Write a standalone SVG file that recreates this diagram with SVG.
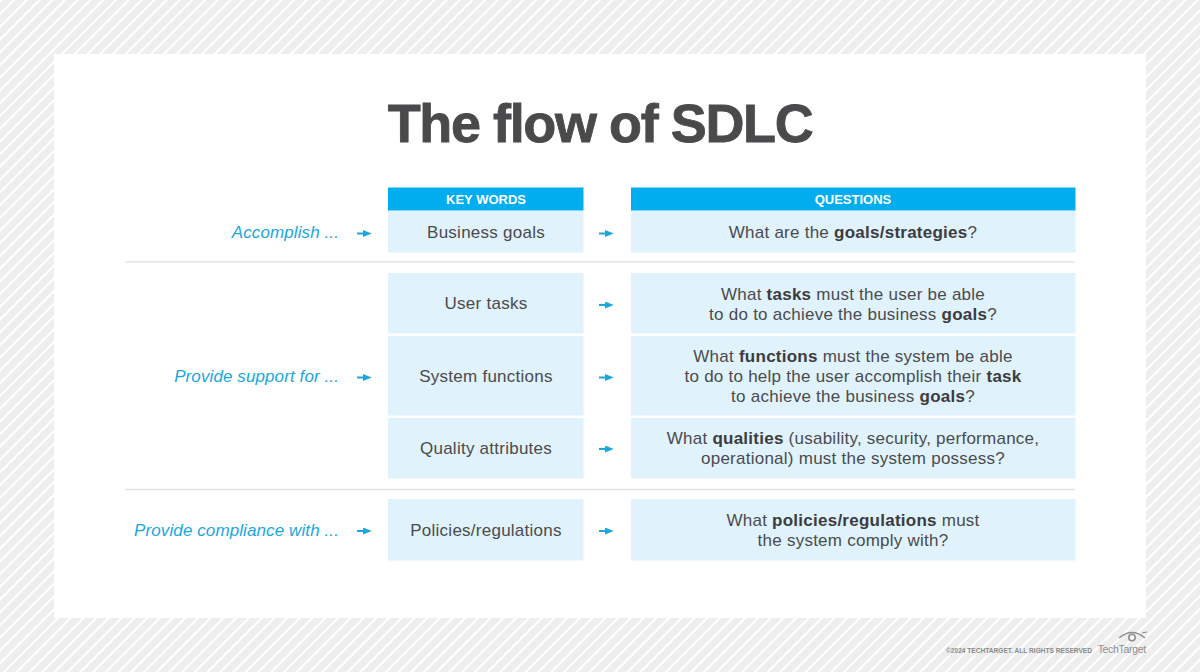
<svg xmlns="http://www.w3.org/2000/svg" width="1200" height="672" viewBox="0 0 1200 672">
<style>
.body{font-family:"Liberation Sans",Arial,sans-serif;font-size:17px;letter-spacing:0.25px;fill:#4b4b4d;text-anchor:middle}
.body tspan.b{font-weight:bold;fill:#3c3c3e}
.lbl{font-family:"Liberation Sans",Arial,sans-serif;font-size:17px;letter-spacing:0.1px;font-style:italic;fill:#1aa7df;text-anchor:end}
.hdr{font-family:"Liberation Sans",Arial,sans-serif;font-size:13px;font-weight:bold;fill:#ffffff;text-anchor:middle}
.box{fill:#e0f2fc}
.head{fill:#00aeef}
.div{stroke:#e2e2e2;stroke-width:1.5}
.arr{stroke:#1aa7df;stroke-width:2}
</style>
<defs>
<pattern id="stripes" width="9" height="9" patternUnits="userSpaceOnUse" patternTransform="rotate(45)">
<rect width="9" height="9" fill="#eeeeee"/>
<rect width="2" height="9" fill="#ffffff"/>
</pattern>
<marker id="ah" viewBox="0 0 10 8" refX="0" refY="4" markerWidth="9" markerHeight="7" markerUnits="userSpaceOnUse" orient="auto">
<path d="M0,0 L10,4 L0,8 Z" fill="#1aa7df"/>
</marker>
</defs>
<rect width="1200" height="672" fill="url(#stripes)"/>
<rect x="54" y="54" width="1092" height="564" fill="#ffffff"/>
<text x="600" y="142" font-family="Liberation Sans,Arial,sans-serif" font-size="54" font-weight="bold" fill="#4a4a4c" text-anchor="middle" letter-spacing="-1.4" stroke="#4a4a4c" stroke-width="0.8">The flow of SDLC</text>

<g id="header-keywords"><rect class="head" x="388" y="187.5" width="195.5" height="23"/><text class="hdr" x="486" y="204">KEY WORDS</text></g>
<g id="header-questions"><rect class="head" x="631" y="187.5" width="444.5" height="23"/><text class="hdr" x="853" y="204">QUESTIONS</text></g>

<g id="dividers">
<line class="div" x1="125" y1="262" x2="1075" y2="262"/>
<line class="div" x1="125" y1="489.5" x2="1075" y2="489.5"/>
</g>

<g id="label-accomplish"><text class="lbl" x="339" y="238">Accomplish ...</text></g>
<g id="label-support"><text class="lbl" x="339" y="382">Provide support for ...</text></g>
<g id="label-compliance"><text class="lbl" x="339" y="536">Provide compliance with ...</text></g>

<g id="kw-business"><rect class="box" x="388" y="211" width="195.5" height="41.5"/><text class="body" x="486" y="238">Business goals</text></g>
<g id="kw-user"><rect class="box" x="388" y="273" width="195.5" height="60.5"/><text class="body" x="486" y="309">User tasks</text></g>
<g id="kw-system"><rect class="box" x="388" y="336" width="195.5" height="79.5"/><text class="body" x="486" y="382">System functions</text></g>
<g id="kw-quality"><rect class="box" x="388" y="418" width="195.5" height="60.5"/><text class="body" x="486" y="454">Quality attributes</text></g>
<g id="kw-policies"><rect class="box" x="388" y="499" width="195.5" height="61.5"/><text class="body" x="486" y="536">Policies/regulations</text></g>

<g id="q-business"><rect class="box" x="631" y="211" width="444.5" height="41.5"/><text class="body" x="853" y="238">What are the <tspan class="b">goals/strategies</tspan>?</text></g>
<g id="q-user"><rect class="box" x="631" y="273" width="444.5" height="60.5"/><text class="body" x="853" y="300">What <tspan class="b">tasks</tspan> must the user be able</text><text class="body" x="853" y="320">to do to achieve the business <tspan class="b">goals</tspan>?</text></g>
<g id="q-system"><rect class="box" x="631" y="336" width="444.5" height="79.5"/><text class="body" x="853" y="362">What <tspan class="b">functions</tspan> must the system be able</text><text class="body" x="853" y="382">to do to help the user accomplish their <tspan class="b">task</tspan></text><text class="body" x="853" y="402">to achieve the business <tspan class="b">goals</tspan>?</text></g>
<g id="q-quality"><rect class="box" x="631" y="418" width="444.5" height="60.5"/><text class="body" x="853" y="444">What <tspan class="b">qualities</tspan> (usability, security, performance,</text><text class="body" x="853" y="464">operational) must the system possess?</text></g>
<g id="q-policies"><rect class="box" x="631" y="499" width="444.5" height="61.5"/><text class="body" x="853" y="526">What <tspan class="b">policies/regulations</tspan> must</text><text class="body" x="853" y="546">the system comply with?</text></g>

<g id="connectors">
<line class="arr" x1="357" y1="233.5" x2="363" y2="233.5" marker-end="url(#ah)"/>
<line class="arr" x1="357" y1="377.5" x2="363" y2="377.5" marker-end="url(#ah)"/>
<line class="arr" x1="357" y1="531" x2="363" y2="531" marker-end="url(#ah)"/>
<line class="arr" x1="599" y1="233.5" x2="605" y2="233.5" marker-end="url(#ah)"/>
<line class="arr" x1="599" y1="305" x2="605" y2="305" marker-end="url(#ah)"/>
<line class="arr" x1="599" y1="377.5" x2="605" y2="377.5" marker-end="url(#ah)"/>
<line class="arr" x1="599" y1="449" x2="605" y2="449" marker-end="url(#ah)"/>
<line class="arr" x1="599" y1="531" x2="605" y2="531" marker-end="url(#ah)"/>
</g>

<g id="footer">
<text x="1092" y="653" font-family="Liberation Sans,Arial,sans-serif" font-size="6.6" font-weight="bold" fill="#8a8a8a" text-anchor="end">©2024 TECHTARGET. ALL RIGHTS RESERVED</text>
<text x="1146" y="653" font-family="Liberation Sans,Arial,sans-serif" font-size="10.5" fill="#8e8e8e" text-anchor="end" letter-spacing="-0.3">TechTarget</text>
<g fill="none" stroke="#8e8e8e">
<path d="M1119,638 Q1132,627 1145,638" stroke-width="1.5"/>
<circle cx="1132" cy="637.5" r="3.2" stroke-width="1.6"/>
<path d="M1142,633 L1147,632" stroke-width="1"/>
</g>
</g>
</svg>
